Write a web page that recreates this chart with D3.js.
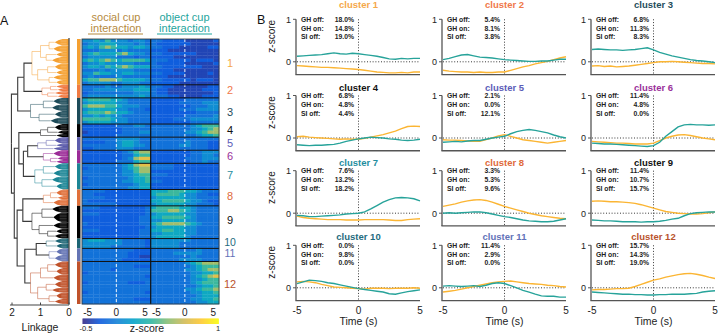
<!DOCTYPE html>
<html>
<head>
<meta charset="utf-8">
<script src="https://cdn.jsdelivr.net/npm/d3@7"></script>
<style>
  body { margin: 0; background: #fff; }
  svg { display: block; font-family: "Liberation Sans", Arial, sans-serif; }
</style>
</head>
<body>
<div id="chart"></div>
<script>
// ---------- data ----------
const clusterNames = ["1","2","3","4","5","6","7","8","9","10","11","12"];
const clusterColors = ["#f5a030","#f07a42","#1d4b59","#000000","#5b5bab","#9b2b97","#1b8595","#e0703a","#000000","#1c6474","#6474b4","#c0522a"];
const labelColors = ["#f5a84a","#f0784a","#1f4d5c","#111111","#5c5cb8","#9a309a","#1f8ea0","#e06a3a","#111111","#1f6c80","#6272b8","#b9532c"];

const ghOff = ["18.0%","5.4%","6.8%","6.8%","2.1%","11.4%","7.6%","3.3%","11.4%","0.0%","11.4%","15.7%"];
const ghOn  = ["14.8%","8.1%","11.3%","4.8%","0.0%","4.8%","13.2%","5.3%","10.7%","9.8%","2.9%","14.3%"];
const siOff = ["19.0%","3.8%","8.3%","4.4%","12.1%","0.0%","18.2%","9.6%","15.7%","0.0%","0.0%","19.0%"];

const timePoints = [-5,-4.5,-4,-3.5,-3,-2.5,-2,-1.5,-1,-0.5,0,0.5,1,1.5,2,2.5,3,3.5,4,4.5,5];

// mean z-score, teal trace
const tealTraces = [
  [0.13,0.14,0.15,0.16,0.17,0.19,0.21,0.19,0.18,0.2,0.19,0.17,0.15,0.13,0.1,0.07,0.06,0.08,0.07,0.08,0.08],
  [0.05,0.08,0.12,0.16,0.17,0.14,0.11,0.1,0.09,0.07,0.05,0.04,0.03,0.02,0.01,0.01,0.02,0.02,0.04,0.06,0.06],
  [0.29,0.3,0.29,0.28,0.28,0.27,0.28,0.29,0.31,0.33,0.28,0.22,0.18,0.14,0.11,0.08,0.05,0.03,0.02,0.0,-0.02],
  [-0.16,-0.17,-0.18,-0.17,-0.17,-0.16,-0.15,-0.12,-0.08,-0.05,-0.02,0.0,0.02,0.01,0.0,-0.02,-0.03,-0.05,-0.06,-0.05,-0.03],
  [-0.1,-0.09,-0.08,-0.09,-0.07,-0.06,-0.06,-0.03,0.0,0.02,0.04,0.1,0.15,0.18,0.2,0.18,0.15,0.12,0.07,0.03,0.0],
  [-0.12,-0.13,-0.14,-0.14,-0.15,-0.16,-0.17,-0.18,-0.19,-0.2,-0.18,-0.1,0.04,0.15,0.26,0.31,0.32,0.31,0.31,0.3,0.31],
  [-0.05,-0.06,-0.08,-0.08,-0.07,-0.06,-0.05,-0.04,-0.02,-0.01,0.0,0.03,0.1,0.18,0.26,0.32,0.36,0.37,0.36,0.34,0.29],
  [0.0,0.01,0.0,0.01,0.02,0.03,0.03,0.01,-0.02,-0.05,-0.08,-0.1,-0.13,-0.16,-0.18,-0.19,-0.2,-0.2,-0.19,-0.16,-0.13],
  [-0.16,-0.17,-0.18,-0.18,-0.19,-0.2,-0.2,-0.2,-0.21,-0.2,-0.2,-0.19,-0.17,-0.14,-0.12,-0.06,-0.01,0.01,0.02,0.03,0.03],
  [0.1,0.14,0.18,0.17,0.15,0.12,0.1,0.07,0.04,0.01,-0.02,-0.04,-0.06,-0.08,-0.1,-0.14,-0.15,-0.12,-0.09,-0.07,-0.05],
  [0.04,0.05,0.04,0.03,0.04,0.05,0.03,0.06,0.1,0.12,0.1,0.05,0.0,-0.06,-0.1,-0.15,-0.19,-0.2,-0.2,-0.22,-0.22],
  [-0.1,-0.11,-0.12,-0.13,-0.14,-0.15,-0.15,-0.16,-0.16,-0.17,-0.17,-0.16,-0.16,-0.15,-0.15,-0.15,-0.14,-0.13,-0.1,-0.08,-0.07]
];
// mean z-score, yellow trace
const yellowTraces = [
  [-0.09,-0.1,-0.11,-0.12,-0.13,-0.13,-0.14,-0.15,-0.16,-0.17,-0.18,-0.2,-0.22,-0.24,-0.25,-0.26,-0.26,-0.25,-0.26,-0.24,-0.24],
  [-0.2,-0.22,-0.23,-0.24,-0.24,-0.25,-0.24,-0.25,-0.25,-0.24,-0.24,-0.2,-0.16,-0.12,-0.09,-0.05,-0.02,0.01,0.05,0.09,0.12],
  [-0.1,-0.09,-0.11,-0.1,-0.12,-0.11,-0.1,-0.08,-0.06,-0.04,-0.02,0.0,0.0,0.01,0.0,-0.01,-0.02,-0.03,-0.04,-0.04,-0.05],
  [0.03,0.04,0.02,0.01,0.0,-0.01,-0.02,-0.03,-0.02,-0.03,-0.03,-0.01,0.02,0.05,0.08,0.12,0.16,0.22,0.27,0.28,0.27],
  [-0.04,-0.05,-0.05,-0.06,-0.07,-0.08,-0.08,-0.04,0.0,0.05,0.08,0.04,0.0,-0.04,-0.06,-0.08,-0.1,-0.12,-0.1,-0.08,-0.06],
  [-0.08,-0.09,-0.1,-0.11,-0.12,-0.12,-0.13,-0.14,-0.14,-0.14,-0.12,-0.06,0.0,0.04,0.07,0.08,0.06,0.03,0.0,-0.02,-0.04],
  [-0.07,-0.1,-0.12,-0.13,-0.14,-0.15,-0.15,-0.15,-0.16,-0.16,-0.16,-0.15,-0.15,-0.15,-0.15,-0.16,-0.17,-0.17,-0.15,-0.14,-0.13],
  [0.16,0.19,0.22,0.26,0.29,0.31,0.32,0.3,0.26,0.21,0.16,0.12,0.08,0.04,0.0,-0.03,-0.06,-0.08,-0.1,-0.12,-0.13],
  [0.28,0.29,0.28,0.27,0.27,0.26,0.25,0.23,0.2,0.16,0.12,0.08,0.04,0.02,0.0,-0.01,-0.02,-0.02,-0.01,0.01,0.03],
  [0.14,0.15,0.14,0.12,0.08,0.05,0.02,0.01,0.0,-0.01,-0.02,-0.03,-0.01,-0.01,-0.01,-0.02,-0.01,-0.01,-0.01,0.0,-0.01],
  [-0.1,-0.08,-0.06,-0.03,0.0,0.03,0.06,0.09,0.12,0.14,0.15,0.16,0.14,0.12,0.1,0.09,0.08,0.06,0.05,0.03,0.02],
  [-0.05,-0.04,-0.04,-0.03,-0.02,-0.02,-0.01,0.03,0.08,0.13,0.18,0.21,0.25,0.28,0.31,0.33,0.34,0.32,0.29,0.25,0.22]
];

// heatmap: one string per neuron group, 12 one-second bins (-6..6 s) social | object, digit = z level
const heatLevels = [-0.5,-0.4,-0.3,-0.2,-0.06,0.1,0.28,0.5,0.7,0.88];
const heatBins = [-6,-5,-4,-3,-2,-1,0,1,2,3,4,5];
const heatRows = [
  ["445464443443|332222111112","344555444343|322222211111","454676554554|332221111122","333444343333|222111111111",
   "456555675443|332222221111","344444333233|222211111111","565676566665|333222212221","344544444333|322222111112",
   "455465676555|332222222111","333434444333|222211111111","446554455444|332222111121","343333433333|222111111111",
   "566777655554|332222212221","344443344433|222221111111"],
  ["333343344454|332211111122","334444444555|322111111222","233333333444|322111111112","344444444454|333221111222"],
  ["566665543333|222222333333","455555443333|222223333444","677766544433|222222233344","455555443332|222223334444",
   "566676554333|222222223333","445454433333|222222333334","666665443333|222233344444","455554443333|222222233333"],
  ["222222333443|333333345666","222222233333|333333344567","122222233344|333333445677","222222333333|333333334556"],
  ["333333444433|333333333333","222233455433|333333433322","333333455443|333334433322","223333444333|333333333322"],
  ["222222234677|222222233444","222222233566|222222233443","222222234788|222222333444","222222333566|222222233433"],
  ["333333345788|333322222222","233333345677|333322222222","333333344677|222222222222","333333344566|333222222222",
   "233333334556|222222222222","333333344556|332222222222","233333333455|222222222222","333333334455|222222222222"],
  ["333322222222|555666554333","332222222222|566665443322","333322222222|455555443333","322222222222|556666544322",
   "333333222222|455555443332"],
  ["333222222223|566665543333","222222222223|666776543333","333222222223|455555443333","222222222233|556666543333",
   "222222222233|445555443333","322222222233|567777654333","222222222223|455555443333","333222222233|556655443333",
   "222222222233|445555443333","222222222233|455555433333"],
  ["455544433332|444444433333","444444433332|444443333333","444443333332|444443333333"],
  ["333333333222|333333334333","333333332222|333344444333","333333332211|333333343333","333333322222|333334444333"],
  ["333333333333|333333456777","333333333222|333333345666","333332333333|333333445677","233333333333|333333344556",
   "333333333332|333333345678","333333333333|333333344566","233333332223|333333345666","333333333333|333333334556",
   "333333333333|333333445667","233333333332|333333344556","333333333333|333333334555","333333333222|333333344556",
   "333333333333|333333334455"]
];

// dendrogram: internal node = [height, childA, childB]; fan leaf = [height, weight]; top-level leaf = cluster index
const clusterTrees = [
  [1.3, [1.0, [0.7, [0.5,2], [0.55,2]], [0.8, [0.45,1.5], [0.6,2]]], [1.1, [0.75, [0.5,2], [0.45,1.5]], [0.7, [0.55,1.5], [0.45,1.5]]]],
  [0.95, [0.65, [0.45,1], [0.4,1]], [0.75, [0.5,1], [0.4,1]]],
  [1.35, [0.9, [0.55,2], [0.6,2]], [1.05, [0.5,2], [0.65,2]]],
  [1.0, [0.75, [0.5,2], [0.4,1]], [0.45,1]],
  [1.1, [0.8, [0.5,2], [0.45,1]], [0.55,1]],
  [0.9, [0.55,2], [0.65, [0.4,1], [0.45,1]]],
  [1.2, [0.9, [0.5,2], [0.55,2]], [0.95, [0.6,2], [0.45,2]]],
  [0.9, [0.65, [0.45,2], [0.4,1]], [0.55,2]],
  [1.3, [0.95, [0.6,2], [0.55,3]], [1.05, [0.55,2], [0.75, [0.45,1.5], [0.5,1.5]]]],
  [0.8, [0.5,1.5], [0.45,1.5]],
  [0.7, [0.45,2], [0.5,2]],
  [1.35, [1.0, [0.75, [0.5,2], [0.45,2]], [0.55,2]], [1.1, [0.8, [0.5,2], [0.6,1.5]], [0.7, [0.45,2], [0.5,1.5]]]]
];
const topTree = [2.02,
  [1.8, [1.58, 0, 1], 2],
  [1.92,
    [1.76, 3, [1.6, [1.45, 4, 5], 6]],
    [1.82, [1.62, 7, 8], [1.55, [1.15, 9, 10], 11]]]];

const parula = ["#352a87","#0f5cdd","#1481d6","#06a4ca","#2eb7a4","#87bf77","#d1bb59","#fec832","#f9fb0e"];

// ---------- setup ----------
const width = 718, height = 334;
const svg = d3.select("#chart").append("svg").attr("width", width).attr("height", height);

const colorScale = d3.scaleLinear()
  .domain(parula.map((c, i) => -0.5 + i * 1.5 / (parula.length - 1)))
  .range(parula);

// ---------- panel A ----------
const rowCounts = heatRows.map(r => r.length);
const totalRows = d3.sum(rowCounts);
const rowStart = [];
rowCounts.reduce((acc, n, i) => { rowStart[i] = acc; return acc + n; }, 0);

const hmTop = 39, hmBottom = 304;
const yRow = d3.scaleLinear().domain([0, totalRows]).range([hmTop, hmBottom]);
const xSocial = d3.scaleLinear().domain([-6, 6]).range([82, 150.7]);
const xObject = d3.scaleLinear().domain([-6, 6]).range([150.7, 219]);

svg.append("text").attr("x", 0).attr("y", 25).text("A")
  .attr("font-size", 12.5).attr("fill", "#111");

// heat cells
const hm = svg.append("g");
heatRows.forEach((rows, c) => {
  rows.forEach((str, r) => {
    const parts = str.split("|");
    const y0 = yRow(rowStart[c] + r), y1 = yRow(rowStart[c] + r + 1);
    [[parts[0], xSocial], [parts[1], xObject]].forEach(([s, xs]) => {
      hm.selectAll(null).data(s.split("").map((d, i) => ({ t: heatBins[i], z: heatLevels[+d] })))
        .enter().append("rect")
        .attr("x", d => xs(d.t))
        .attr("y", y0)
        .attr("width", d => xs(d.t + 1) - xs(d.t) + 0.3)
        .attr("height", y1 - y0 + 0.3)
        .attr("fill", d => colorScale(d.z));
    });
  });
});

// white dashed zero lines
[xSocial, xObject].forEach(xs => {
  svg.append("line").attr("x1", xs(0)).attr("x2", xs(0)).attr("y1", hmTop).attr("y2", hmBottom)
    .attr("stroke", "#fff").attr("stroke-width", 1.1).attr("stroke-dasharray", "3,2").attr("opacity", 0.85);
});

// cluster separators
rowStart.slice(1).forEach(s => {
  svg.append("line").attr("x1", 82).attr("x2", 219).attr("y1", yRow(s)).attr("y2", yRow(s))
    .attr("stroke", "#111").attr("stroke-width", 1);
});
svg.append("line").attr("x1", 150.7).attr("x2", 150.7).attr("y1", hmTop).attr("y2", hmBottom)
  .attr("stroke", "#111").attr("stroke-width", 1.2);
svg.append("rect").attr("x", 82).attr("y", hmTop).attr("width", 137).attr("height", hmBottom - hmTop)
  .attr("fill", "none").attr("stroke", "#333").attr("stroke-width", 0.8);

// cluster colour strip + labels
clusterNames.forEach((name, c) => {
  const y0 = yRow(rowStart[c]), y1 = yRow(rowStart[c] + rowCounts[c]);
  svg.append("rect").attr("x", 77).attr("y", y0).attr("width", 3.5).attr("height", y1 - y0)
    .attr("fill", clusterColors[c]);
});
svg.append("line").attr("x1", 81).attr("x2", 81).attr("y1", hmTop).attr("y2", hmBottom)
  .attr("stroke", "#999").attr("stroke-width", 1);

const labelY = [63.3, 90, 111.7, 130, 143.3, 156, 175, 195.7, 220, 241.8, 253.2, 284];
clusterNames.forEach((name, c) => {
  svg.append("text").attr("x", 230).attr("y", labelY[c] + 3.8).text(name)
    .attr("text-anchor", "middle").attr("font-size", c === 9 || c === 10 ? 10.5 : 11)
    .attr("fill", labelColors[c]);
});

// headers
const headers = [
  { lines: ["social cup", "interaction"], x: 116, color: "#b58a3e", u: [88, 143] },
  { lines: ["object cup", "interaction"], x: 184.5, color: "#1ea59d", u: [157, 212] }
];
headers.forEach(h => {
  h.lines.forEach((l, i) => {
    svg.append("text").attr("x", h.x).attr("y", 20.5 + i * 11.5).text(l)
      .attr("text-anchor", "middle").attr("font-size", 11).attr("fill", h.color);
  });
  svg.append("line").attr("x1", h.u[0]).attr("x2", h.u[1]).attr("y1", 34).attr("y2", 34)
    .attr("stroke", h.color).attr("stroke-width", 1.2);
});

// heatmap time ticks
[xSocial, xObject].forEach(xs => {
  [-5, 0, 5].forEach(t => {
    svg.append("text").attr("x", xs(t)).attr("y", 315.5).text(t < 0 ? "-" + Math.abs(t) : t)
      .attr("text-anchor", "middle").attr("font-size", 10).attr("fill", "#222");
  });
});

// colour bar
const cbX = d3.scaleLinear().domain([-0.5, 1]).range([82.5, 217.5]);
const cbSteps = d3.range(0, 136).map(i => -0.5 + i * 1.5 / 135);
svg.append("g").selectAll("rect").data(cbSteps).enter().append("rect")
  .attr("x", d => cbX(d)).attr("y", 318.5).attr("width", 1.3).attr("height", 5.5)
  .attr("fill", d => colorScale(d));
svg.append("text").attr("x", 86).attr("y", 331).text("-0.5").attr("text-anchor", "middle")
  .attr("font-size", 7.5).attr("fill", "#222");
svg.append("text").attr("x", 218).attr("y", 331).text("1").attr("text-anchor", "middle")
  .attr("font-size", 7.5).attr("fill", "#222");
svg.append("text").attr("x", 147).attr("y", 332).text("z-score").attr("text-anchor", "middle")
  .attr("font-size", 10.5).attr("fill", "#222");

// dendrogram
const dX = d3.scaleLinear().domain([2, 0]).range([12, 69]);
const links = [], fans = [];

function placeSub(n, state, color) {
  if (n.length === 2) {
    const y0 = state.y, y1 = state.y + n[1] * state.k;
    state.y = y1;
    fans.push({ h: n[0], y0: y0, y1: y1, yc: (y0 + y1) / 2, color: color });
    return { h: n[0], y: (y0 + y1) / 2 };
  }
  const a = placeSub(n[1], state, color);
  const b = placeSub(n[2], state, color);
  const y = (a.y + b.y) / 2;
  links.push({ h: n[0], y: y, c: a, color: color, top: false });
  links.push({ h: n[0], y: y, c: b, color: color, top: false });
  return { h: n[0], y: y };
}
function weightSum(n) { return n.length === 2 ? n[1] : weightSum(n[1]) + weightSum(n[2]); }

function placeTop(n) {
  if (typeof n === "number") {
    const y0 = yRow(rowStart[n]), y1 = yRow(rowStart[n] + rowCounts[n]);
    const k = (y1 - y0) / weightSum(clusterTrees[n]);
    return placeSub(clusterTrees[n], { y: y0, k: k }, clusterColors[n]);
  }
  const a = placeTop(n[1]);
  const b = placeTop(n[2]);
  const y = (a.y + b.y) / 2;
  links.push({ h: n[0], y: y, c: a, color: "#3a3a3a", top: true });
  links.push({ h: n[0], y: y, c: b, color: "#3a3a3a", top: true });
  return { h: n[0], y: y };
}
placeTop(topTree);

const dg = svg.append("g");
// each fan: a dense clump of leaves, drawn as a block that narrows to its merge point
dg.selectAll("path.fan").data(fans).enter().append("path")
  .attr("d", d => {
    const ym = 0.3 * (d.y1 - d.y0);
    return "M" + dX(d.h) + "," + d.yc +
      "L" + dX(d.h * 0.75) + "," + (d.y0 + ym * 0.6) + "L" + dX(d.h * 0.45) + "," + d.y0 + "L" + dX(0) + "," + d.y0 +
      "L" + dX(0) + "," + d.y1 + "L" + dX(d.h * 0.45) + "," + d.y1 + "L" + dX(d.h * 0.75) + "," + (d.y1 - ym * 0.6) + "Z";
  })
  .attr("fill", d => d.color);
// faint leaf lines across the clumps
dg.selectAll("line.leaf").data(fans.flatMap(f => d3.range(f.y0 + 1.2, f.y1 - 0.5, 1.6).map(y => ({ y: y, f: f }))))
  .enter().append("line")
  .attr("x1", d => dX(d.f.h * 0.6)).attr("x2", dX(0.08)).attr("y1", d => d.y).attr("y2", d => d.y)
  .attr("stroke", "#fff").attr("stroke-width", 0.35).attr("stroke-opacity", 0.6);
dg.selectAll("path.link").data(links).enter().append("path")
  .attr("d", d => "M" + dX(d.h) + "," + d.y + "V" + d.c.y + "H" + dX(d.c.h))
  .attr("fill", "none")
  .attr("stroke", d => d.color)
  .attr("stroke-opacity", d => d.top ? 1 : 0.55)
  .attr("stroke-width", d => d.top ? 1.1 : 0.9);

svg.append("line").attr("x1", dX(0)).attr("x2", dX(0)).attr("y1", hmTop - 1).attr("y2", hmBottom)
  .attr("stroke", "#555").attr("stroke-width", 1.4);

// linkage axis
svg.append("line").attr("x1", 10).attr("x2", dX(0)).attr("y1", 305).attr("y2", 305)
  .attr("stroke", "#444").attr("stroke-width", 1.2);
[2, 1, 0].forEach(v => {
  svg.append("line").attr("x1", dX(v)).attr("x2", dX(v)).attr("y1", 302.5).attr("y2", 305)
    .attr("stroke", "#444").attr("stroke-width", 1);
  svg.append("text").attr("x", dX(v)).attr("y", 315.5).text(v).attr("text-anchor", "middle")
    .attr("font-size", 10).attr("fill", "#222");
});
svg.append("text").attr("x", 40).attr("y", 330.5).text("Linkage").attr("text-anchor", "middle")
  .attr("font-size", 10.5).attr("fill", "#222");

// ---------- panel B ----------
svg.append("text").attr("x", 257).attr("y", 23.5).text("B").attr("font-size", 12.5).attr("fill", "#111");

const colX = [297, 443, 592];
const rowY1 = [19.3, 95.5, 170.7, 245.3];
const unit = 42.5;
const plotW = 123;
const titleY = [8, 90.5, 165.5, 240];

clusterNames.forEach((name, c) => {
  const col = c % 3, row = Math.floor(c / 3);
  const x0 = colX[col];
  const y = d3.scaleLinear().domain([-0.3, 1]).range([rowY1[row] + unit * 1.3, rowY1[row]]);
  const x = d3.scaleLinear().domain([-5, 5]).range([x0, x0 + plotW]);
  const g = svg.append("g");
  const yBottom = y(-0.3);

  // title
  g.append("text").attr("x", x(0)).attr("y", titleY[row]).text("cluster " + name)
    .attr("text-anchor", "middle").attr("font-size", 9.5).attr("font-weight", "bold")
    .attr("fill", labelColors[c]);

  // dotted reference lines
  g.append("line").attr("x1", x0).attr("x2", x0 + plotW).attr("y1", y(0)).attr("y2", y(0))
    .attr("stroke", "#222").attr("stroke-width", 0.9).attr("stroke-dasharray", "1,1.8");
  g.append("line").attr("x1", x(0)).attr("x2", x(0)).attr("y1", y(1)).attr("y2", yBottom)
    .attr("stroke", "#222").attr("stroke-width", 0.9).attr("stroke-dasharray", "1,1.8");

  // traces
  const line = d3.line().x((d, i) => x(timePoints[i])).y(d => y(d));
  g.append("path").datum(yellowTraces[c]).attr("d", line).attr("fill", "none")
    .attr("stroke", "#fbb533").attr("stroke-width", 1.4);
  g.append("path").datum(tealTraces[c]).attr("d", line).attr("fill", "none")
    .attr("stroke", "#27a39a").attr("stroke-width", 1.4);

  // axes
  g.append("line").attr("x1", x0 - 1).attr("x2", x0 - 1).attr("y1", y(1)).attr("y2", yBottom)
    .attr("stroke", "#555").attr("stroke-width", 1.3);
  g.append("line").attr("x1", x0 - 1.6).attr("x2", x0 + plotW).attr("y1", yBottom).attr("y2", yBottom)
    .attr("stroke", "#555").attr("stroke-width", 1.3);
  [0, 1].forEach(v => {
    g.append("line").attr("x1", x0 - 4).attr("x2", x0 - 1).attr("y1", y(v)).attr("y2", y(v))
      .attr("stroke", "#555").attr("stroke-width", 1);
    g.append("text").attr("x", x0 - 6).attr("y", y(v) + 3.3).text(v).attr("text-anchor", "end")
      .attr("font-size", 9).attr("fill", "#222");
  });

  // percentages
  const stats = [["GH off:", ghOff[c]], ["GH on:", ghOn[c]], ["SI off:", siOff[c]]];
  stats.forEach((s, i) => {
    g.append("text").attr("x", x0 + 4).attr("y", y(1) + 2.5 + i * 8.8).text(s[0])
      .attr("font-size", 6.8).attr("font-weight", "bold").attr("fill", "#222");
    g.append("text").attr("x", x0 + 57).attr("y", y(1) + 2.5 + i * 8.8).text(s[1])
      .attr("text-anchor", "end").attr("font-size", 6.8).attr("font-weight", "bold").attr("fill", "#222");
  });

  if (col === 0) {
    g.append("text").attr("transform", "translate(" + 275 + "," + (rowY1[row] + 17) + ") rotate(-90)")
      .text("z-score").attr("text-anchor", "middle").attr("font-size", 10).attr("fill", "#222");
  }
  if (row === 3) {
    [-5, 0, 5].forEach(t => {
      g.append("text").attr("x", x(t)).attr("y", 313.5).text(t < 0 ? "-" + Math.abs(t) : t)
        .attr("text-anchor", "middle").attr("font-size", 10).attr("fill", "#222");
    });
    g.append("text").attr("x", x(0)).attr("y", 324.5).text("Time (s)")
      .attr("text-anchor", "middle").attr("font-size", 10.5).attr("fill", "#222");
  }
});
</script>
</body>
</html>
